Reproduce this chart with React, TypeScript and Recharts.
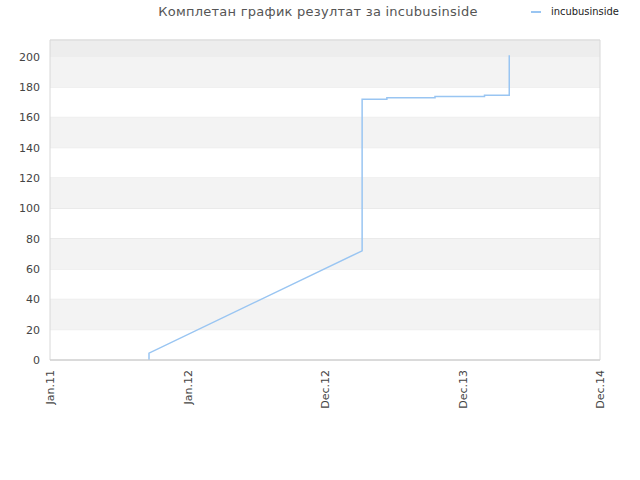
import { LineChart, Line, XAxis, YAxis, CartesianGrid, ReferenceArea } from 'recharts';

// x is in tick units: 0 = Jan.11, 1 = Jan.12, 2 = Dec.12, 3 = Dec.13, 4 = Dec.14
const tickLabels = ['Jan.11', 'Jan.12', 'Dec.12', 'Dec.13', 'Dec.14'];
const pointX = [0.72, 0.72, 2.27, 2.27, 2.45, 2.45, 2.8, 2.8, 3.16, 3.16, 3.34, 3.34];
const pointY = [0, 4.5, 72, 172, 172, 172.9, 172.9, 173.8, 173.8, 174.5, 174.5, 201];
const yTicks = [0, 20, 40, 60, 80, 100, 120, 140, 160, 180, 200];
const bands = [[20, 40], [60, 80], [100, 120], [140, 160], [180, 200]];

const data = pointX.map((x, i) => ({ x, score: pointY[i] }));

const XTick = (props: any) => {
  const { x, y, payload } = props;
  return (
    <text x={x} y={y} transform={`rotate(-90, ${x}, ${y})`} dy={4} textAnchor="end" fill="#444" fontSize={11}
      fontFamily="DejaVu Sans">
      {tickLabels[payload.value]}
    </text>
  );
};

export default function App() {
  return (
    <div style={{ position: 'absolute', left: 0, top: 0, width: 640, height: 480 }}>
      <div style={{ position: 'absolute', top: 4, left: 0, width: 636, textAlign: 'center', fontFamily: 'DejaVu Sans',
        fontSize: 13, color: '#555', letterSpacing: 0.25 }}>
        Комплетан график резултат за incubusinside
      </div>
      <div style={{ position: 'absolute', top: 5, left: 531, display: 'flex', alignItems: 'center',
        fontFamily: 'DejaVu Sans Condensed', fontSize: 11, color: '#222' }}>
        <span style={{ display: 'inline-block', width: 10, height: 2, background: '#99c5f2', marginRight: 10 }} />
        incubusinside
      </div>
      <LineChart width={640} height={480} data={data} margin={{ top: 40, right: 40, left: 0, bottom: 60 }}>
        <ReferenceArea y1={200} y2={211} fill="#ededed" fillOpacity={1} stroke="none" />
        {bands.map(([a, b]) => (
          <ReferenceArea key={a} y1={a} y2={b} fill="#f3f3f3" fillOpacity={1} stroke="none" />
        ))}
        <CartesianGrid vertical={false} stroke="#e2e2e2" />
        <ReferenceArea x1={0} x2={4} y1={0} y2={211} fill="none" stroke="#d8d8d8" />
        <XAxis dataKey="x" type="number" domain={[0, 4]} ticks={[0, 1, 2, 3, 4]} interval={0} height={60}
          tick={<XTick />} tickLine={false} axisLine={{ stroke: '#d0d0d0' }} tickSize={0} tickMargin={10} />
        <YAxis type="number" domain={[0, 211]} ticks={yTicks} width={50} tickLine={false} axisLine={false}
          tickSize={0} tickMargin={10} tick={{ fill: '#444', fontSize: 11, fontFamily: 'DejaVu Sans' }} />
        <Line type="linear" dataKey="score" stroke="#99c5f2" strokeWidth={1.5} dot={false} isAnimationActive={false} />
      </LineChart>
    </div>
  );
}
